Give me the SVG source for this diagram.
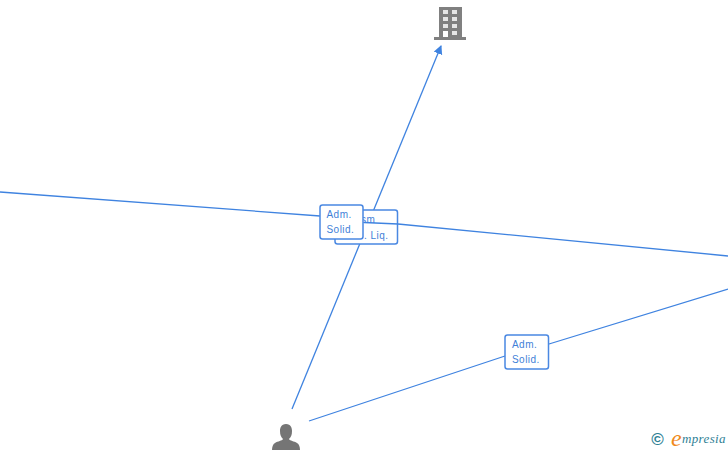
<svg xmlns="http://www.w3.org/2000/svg" width="728" height="450" viewBox="0 0 728 450">
<style>
.c{fill:none;stroke:#3f83e0;stroke-width:1.300}
.b{fill:#fff;stroke:#4a88e2;stroke-width:1.500}
.t{font-family:"Liberation Sans",Arial,sans-serif;font-size:10px;fill:#3f7fd8;letter-spacing:.45px}
.g{fill:#808080}
.w{fill:#e6e6e6}
</style>
<defs>
<marker id="a" markerUnits="userSpaceOnUse" markerWidth="10" markerHeight="10" refX="8" refY="4.500" orient="auto"><path d="M0 0L9 4.500L0 9Z" fill="#3f83e0"/></marker>
</defs>
<rect width="728" height="450" fill="#fff"/>
<g id="connectors">
<path class="c" d="M292 409L441 46" marker-end="url(#a)"/>
<path class="c" d="M0 192L320 216M398 224L728 256"/>
<path class="c" d="M309 421L505 356M549 344L728 289"/>
</g>
<g id="label-liq">
<rect class="b" x="335" y="210" width="62.500" height="34" rx="2.500"/>
<text class="t" x="361" y="223">sm</text>
<text class="t" x="364" y="239">. Liq.</text>
<path class="c" d="M364 222.500L398 224"/>
</g>
<g id="label-solid-1">
<rect class="b" x="320" y="205" width="43" height="34" rx="2.500"/>
<text class="t" x="326.500" y="218">Adm.</text>
<text class="t" x="326.500" y="233">Solid.</text>
</g>
<g id="label-solid-2">
<rect class="b" x="505" y="335" width="43.500" height="34" rx="2.500"/>
<text class="t" x="512" y="348">Adm.</text>
<text class="t" x="512" y="363">Solid.</text>
</g>
<g id="company">
<rect class="g" x="439" y="7" width="23" height="30"/>
<rect class="g" x="434" y="37" width="32" height="3"/>
<g class="w">
<rect x="443" y="10" width="5" height="4"/><rect x="452" y="10" width="5" height="4"/>
<rect x="443" y="17" width="5" height="4"/><rect x="452" y="17" width="5" height="4"/>
<rect x="443" y="24" width="5" height="4"/><rect x="452" y="24" width="5" height="4"/>
<rect x="443" y="31" width="5" height="6" fill="#fff"/><rect x="452" y="31" width="5" height="4"/>
</g>
</g>
<g id="person">
<path fill="#757575" d="M286 424C281 424 280 428 280 431C280 435 281 437 283 439C282 441 278 441 275 443C273 444 272 447 272 450L300 450C300 447 299 444 297 443C294 441 290 441 289 439C291 437 292 435 292 431C292 428 291 424 286 424Z"/>
</g>
<g id="logo">
<text x="657.500" y="445" text-anchor="middle" font-family="Liberation Sans,sans-serif" font-size="17" font-weight="bold" fill="#2f7f95">©</text>
<text x="671" y="446" font-family="Liberation Serif,serif" font-style="italic" font-size="24" fill="#f08a1c">e</text>
<text x="682" y="443" font-family="Liberation Serif,serif" font-style="italic" font-size="13" fill="#2f7f95" textLength="43.500" lengthAdjust="spacing">mpresia</text>
</g>
</svg>
